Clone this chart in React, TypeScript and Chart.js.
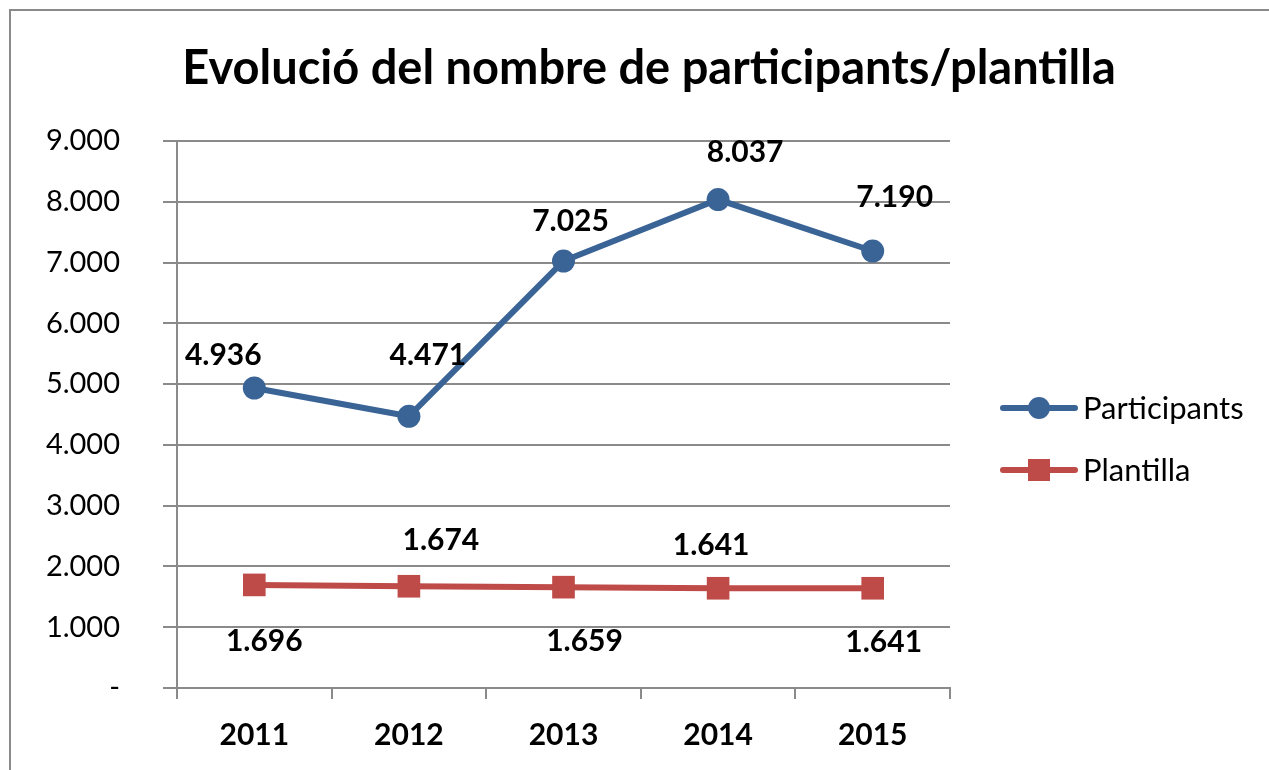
import React, { useEffect, useRef } from "react";
import { Chart, registerables } from "chart.js";

Chart.register(...registerables);

const title = "Evolució del nombre de participants/plantilla";
const years = ["2011", "2012", "2013", "2014", "2015"];
const participants = [4936, 4471, 7025, 8037, 7190];
const plantilla = [1696, 1674, 1659, 1641, 1641];
const yTickLabels = ["-", "1.000", "2.000", "3.000", "4.000", "5.000", "6.000", "7.000", "8.000", "9.000"];
const seriesNames = ["Participants", "Plantilla"];

// label placement offsets (style), relative to each point
const labelOffsets = [
  [[-31, -33], [19, -61], [7, -40], [27, -47], [22, -54]],
  [[10, 56], [32, -46], [21, 54], [-7, -43], [11, 54]],
];

const BLUE = "#3a6496";
const RED = "#be4b48";
const GRID = "#8a8a8a";
const FONT = "Lato, 'Noto Sans', sans-serif";

const fmt = (v: number) => {
  const s = Math.round(v).toString();
  return s.replace(/\B(?=(\d{3})+(?!\d))/g, ".");
};

const W = 1258;
const H = 759;

export default function App() {
  const ref = useRef<HTMLCanvasElement | null>(null);
  useEffect(() => {
    if (!ref.current) return;
    const decor = {
      id: "decor",
      afterDatasetsDraw(chart: any) {
        const ctx = chart.ctx;
        ctx.save();
        // data labels
        ctx.fillStyle = "#000";
        ctx.font = `bold 30px ${FONT}`;
        ctx.textAlign = "center";
        ctx.textBaseline = "middle";
        chart.data.datasets.forEach((ds: any, di: number) => {
          const meta = chart.getDatasetMeta(di);
          meta.data.forEach((pt: any, i: number) => {
            const [dx, dy] = labelOffsets[di][i];
            ctx.fillText(fmt(ds.data[i]), pt.x + dx, pt.y + dy);
          });
        });
        // title
        ctx.font = `bold 47px ${FONT}`;
        ctx.fillText(title, 638, 58);
        // legend
        const colors = [BLUE, RED];
        const styles = ["circle", "rect"];
        const ys = [397, 459];
        seriesNames.forEach((name, i) => {
          const y = ys[i];
          ctx.strokeStyle = colors[i];
          ctx.lineWidth = 6;
          ctx.lineCap = "round";
          ctx.beginPath();
          ctx.moveTo(992, y);
          ctx.lineTo(1064, y);
          ctx.stroke();
          ctx.fillStyle = colors[i];
          if (styles[i] === "circle") {
            ctx.beginPath();
            ctx.arc(1028, y, 11, 0, Math.PI * 2);
            ctx.fill();
          } else {
            ctx.fillRect(1028 - 11, y - 11, 22, 22);
          }
          ctx.fillStyle = "#000";
          ctx.font = `31px ${FONT}`;
          ctx.textAlign = "left";
          ctx.fillText(name, 1072, y + 1);
        });
        ctx.restore();
      },
    };
    const chart = new Chart(ref.current, {
      type: "line",
      data: {
        labels: years,
        datasets: [
          {
            label: seriesNames[0],
            data: participants,
            borderColor: BLUE,
            backgroundColor: BLUE,
            borderWidth: 6,
            pointStyle: "circle",
            pointRadius: 11.5,
            pointBorderWidth: 0,
            pointBackgroundColor: BLUE,
            tension: 0,
          },
          {
            label: seriesNames[1],
            data: plantilla,
            borderColor: RED,
            backgroundColor: RED,
            borderWidth: 6,
            pointStyle: "rect",
            pointRadius: 16,
            pointBorderWidth: 0,
            pointBackgroundColor: RED,
            tension: 0,
          },
        ],
      },
      options: {
        responsive: false,
        animation: false,
        layout: { padding: { left: 0, top: 130, right: 319, bottom: 0 } },
        plugins: {
          legend: { display: false },
          title: { display: false },
          tooltip: { enabled: false },
        },
        scales: {
          x: {
            type: "category",
            offset: true,
            grid: {
              display: true,
              drawOnChartArea: false,
              drawTicks: true,
              tickLength: 11,
              offset: true,
              color: GRID,
              lineWidth: 2,
            },
            border: { display: true, color: GRID, width: 2 },
            ticks: {
              color: "#000",
              font: { family: FONT, size: 30, weight: "bold" },
              padding: 18,
              maxRotation: 0,
            },
            afterFit(scale: any) {
              scale.height = 82;
            },
          },
          y: {
            min: 0,
            max: 9000,
            grid: {
              color: GRID,
              lineWidth: 2,
              drawTicks: true,
              tickLength: 14,
            },
            border: { display: true, color: GRID, width: 2 },
            ticks: {
              stepSize: 1000,
              color: "#000",
              font: { family: FONT, size: 29 },
              padding: 43,
              callback: (v: any) => yTickLabels[Math.round(Number(v) / 1000)],
            },
            afterFit(scale: any) {
              scale.width = 166;
            },
          },
        },
      },
      plugins: [decor],
    } as any);
    return () => chart.destroy();
  }, []);
  return (
    <div
      style={{
        position: "fixed",
        left: 9,
        top: 9,
        width: 1260,
        height: 761,
        borderTop: "2px solid #8a8a8a",
        borderLeft: "2px solid #8a8a8a",
        boxSizing: "border-box",
        background: "#fff",
        overflow: "hidden",
      }}
    >
      <canvas ref={ref} width={W} height={H} style={{ display: "block", width: W, height: H }} />
    </div>
  );
}
